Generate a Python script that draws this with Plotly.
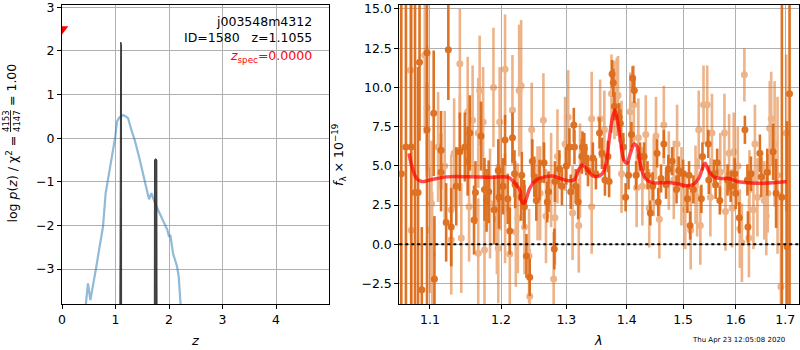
import math
import plotly.graph_objects as go

# ---------------- left panel data: p(z) ----------------
z_pz = [0.442, 0.486, 0.530, 0.579, 0.642, 0.704, 0.766, 0.816, 0.891, 0.953, 0.997, 1.028,
        1.070, 1.109, 1.146, 1.190, 1.234, 1.296, 1.358, 1.439, 1.514, 1.576, 1.626, 1.670,
        1.713, 1.794, 1.888, 1.969, 2.000, 2.025, 2.075, 2.150, 2.181, 2.218]
logp_pz = [-3.85, -3.33, -3.71, -3.40, -2.94, -2.48, -2.03, -1.26, -0.73, -0.27, 0.04, 0.38,
           0.47, 0.50, 0.53, 0.50, 0.46, 0.19, -0.04, -0.42, -0.80, -1.11, -1.40, -1.26,
           -1.41, -1.64, -1.87, -2.10, -2.26, -2.22, -2.64, -2.94, -3.17, -3.85]

z_peak1 = [1.080, 1.083, 1.097, 1.111, 1.114]
logp_peak1 = [-4.2, 2.15, 2.20, 2.15, -4.2]
z_peak2 = [1.725, 1.729, 1.751, 1.773, 1.777]
logp_peak2 = [-4.2, -0.50, -0.47, -0.50, -4.2]

z_spec = [0.0]
z_spec_y = [2.5]

# ---------------- right panel data: spectrum ----------------
lam_dark = [1.062, 1.068, 1.075, 1.080, 1.084, 1.086, 1.089, 1.096, 1.096, 1.105, 1.106, 1.115,
            1.115, 1.122, 1.125, 1.129, 1.136, 1.141, 1.148, 1.152, 1.155, 1.161, 1.163, 1.171,
            1.176, 1.179, 1.182, 1.190, 1.196, 1.197, 1.203, 1.206, 1.210, 1.213, 1.217, 1.220,
            1.221, 1.230, 1.231, 1.234, 1.235, 1.238, 1.243, 1.247, 1.250, 1.253, 1.258, 1.265,
            1.270, 1.272, 1.281, 1.282, 1.289, 1.293, 1.300, 1.305, 1.307, 1.312, 1.313, 1.315,
            1.319, 1.325, 1.326, 1.329, 1.332, 1.335, 1.343, 1.348, 1.354, 1.358, 1.363, 1.368,
            1.370, 1.375, 1.377, 1.379, 1.387, 1.389, 1.394, 1.398, 1.403, 1.408, 1.410, 1.413,
            1.416, 1.423, 1.430, 1.436, 1.441, 1.445, 1.453, 1.455, 1.460, 1.465, 1.469, 1.473,
            1.480, 1.488, 1.492, 1.500, 1.508, 1.511, 1.513, 1.519, 1.534, 1.536, 1.547, 1.548,
            1.558, 1.561, 1.564, 1.569, 1.584, 1.590, 1.598, 1.600, 1.607, 1.618, 1.623, 1.624,
            1.630, 1.648, 1.651, 1.663, 1.675, 1.681, 1.693, 1.704, 1.709]
flux_dark = [4.5, 6.2, 6.2, 3.3, 3.3, 11.6, -2.9, 12.2, 7.3, 8.35, -2.2, 6.0,
             4.6, 1.4, 12.4, 1.1, 3.7, 5.9, 6.2, 5.3, 7.1, 1.55, 3.3, 6.9,
             3.5, 2.8, 3.35, 2.2, 4.7, 3.0, 3.7, 6.65, 2.9, 0.85, 6.8, 4.5,
             3.8, 3.0, 4.4, 2.7, 2.4, -0.74, -2.1, 5.3, 4.3, 2.8, 4.1, 5.2,
             2.7, 3.35, -0.3, 4.0, 4.8, 3.7, 5.0, 6.2, 3.35, 7.6, 6.2, 3.7,
             2.7, 5.6, 6.2, 6.1, 5.4, 4.7, 5.5, 4.5, 7.1, 5.8, 4.1, 5.6,
             4.0, 10.85, 10.3, 8.8, 8.1, 7.7, 6.2, 3.0, 4.4, 7.0, 10.6, 9.8,
             4.4, 5.6, 5.6, 4.4, 2.0, 3.7, 5.8, 2.7, 4.2, 6.4, 3.8, 4.8,
             5.3, 3.5, 4.7, 4.5, 2.9, 4.4, 1.2, 3.5, 2.9, 5.6, 6.4, 4.1,
             4.5, 3.8, 5.2, 2.8, 4.1, 3.7, 4.5, 3.25, 1.7, 7.3, 4.1, 1.1,
             4.5, 5.8, 4.3, 4.6, 5.9, 3.25, 3.0, -0.15, 9.6]
err_dark = [20, 20, 14, 12, 8, 5, 4, 18, 3, 4, 4, 2.5,
            2.5, 2.5, 3.2, 2.5, 2.5, 2.5, 2.2, 2.2, 2.4, 2.2, 2.0, 2.2,
            2.0, 2.0, 2.0, 2.2, 2.0, 2.0, 1.8, 1.6, 1.6, 1.5, 1.6, 1.5,
            1.5, 1.5, 1.5, 1.4, 1.4, 1.4, 1.2, 1.4, 1.3, 1.3, 1.3, 1.3,
            1.3, 1.3, 1.3, 1.3, 1.2, 1.2, 1.2, 1.2, 1.1, 1.1, 1.1, 1.1,
            1.1, 1.1, 1.0, 1.0, 1.0, 1.0, 1.0, 1.0, 1.0, 1.0, 1.0, 1.0,
            1.0, 0.9, 0.9, 0.9, 0.9, 0.9, 0.9, 0.9, 0.9, 0.8, 0.75, 0.8,
            0.9, 0.9, 0.9, 0.9, 0.8, 0.9, 0.9, 0.9, 0.9, 0.9, 0.9, 0.9,
            0.9, 0.9, 0.9, 0.9, 0.9, 0.9, 0.9, 0.9, 0.9, 0.9, 0.9, 0.9,
            0.9, 0.9, 0.9, 0.9, 1.0, 1.0, 1.0, 1.0, 1.0, 0.9, 1.0, 1.0,
            1.1, 1.2, 1.3, 1.5, 1.8, 2.2, 20, 8, 20]

lam_light = [1.074, 1.075, 1.093, 1.096, 1.100, 1.102, 1.103, 1.111, 1.120, 1.129, 1.129, 1.133,
             1.141, 1.141, 1.143, 1.152, 1.154, 1.159, 1.167, 1.167, 1.169, 1.174, 1.176, 1.184,
             1.189, 1.194, 1.196, 1.198, 1.199, 1.206, 1.206, 1.213, 1.217, 1.222, 1.225, 1.227,
             1.230, 1.235, 1.242, 1.243, 1.246, 1.255, 1.259, 1.264, 1.268, 1.276, 1.280, 1.282,
             1.286, 1.298, 1.303, 1.310, 1.320, 1.322, 1.341, 1.341, 1.355, 1.362, 1.374, 1.379,
             1.383, 1.385, 1.391, 1.391, 1.406, 1.412, 1.417, 1.420, 1.427, 1.433, 1.439, 1.447,
             1.451, 1.457, 1.465, 1.474, 1.483, 1.489, 1.497, 1.504, 1.514, 1.523, 1.526, 1.529,
             1.532, 1.538, 1.545, 1.551, 1.554, 1.570, 1.578, 1.580, 1.587, 1.593, 1.596, 1.604,
             1.608, 1.612, 1.617, 1.626, 1.627, 1.635, 1.638, 1.643, 1.657, 1.661, 1.664, 1.668,
             1.671, 1.678, 1.684, 1.691, 1.702]
flux_light = [11.1, 0.9, 12.05, 8.7, 0.9, 2.6, -0.64, 6.2, 5.0, 2.2, 0.3, 5.8,
              11.5, 6.0, 0.4, 8.45, 2.4, 7.9, 7.1, -0.57, 9.8, 7.8, -0.36, 2.6,
              10.0, 1.6, -0.25, 7.8, 4.4, 11.15, 2.3, -0.62, 8.56, 0.8, 1.66, 9.8,
              10.1, 1.1, -0.74, -3.3, 7.3, 3.25, 3.25, 7.9, 1.8, 4.1, -2.2, 1.7,
              5.6, 6.4, 8.1, 2.0, 1.2, 4.7, 8.0, 2.4, 8.0, 7.3, 9.6, 9.2,
              9.4, 9.5, 6.65, 4.5, 8.45, 8.9, 3.6, 6.8, 3.7, 7.0, 2.3, 4.3,
              6.9, 1.6, 7.6, 4.7, 4.1, 6.4, 3.7, 2.2, 0.9, 3.8, 3.0, 7.3,
              1.2, 8.9, 8.9, 3.0, 7.1, 4.6, 7.1, 2.1, 5.8, 2.3, 5.9, 5.0,
              1.0, 0.1, 10.8, 0.4, 3.5, 2.2, 6.4, 3.0, 2.8, 1.8, 3.25, 7.4,
              8.0, 6.4, 4.4, -2.7, 7.1]
err_light = [5, 5, 5, 4, 4, 4, 4, 3.5, 3.5, 3.5, 3.5, 3.5,
             3.5, 3.5, 3.5, 3.5, 3.5, 3.5, 3.5, 3.5, 3.5, 3.5, 3.5, 3.5,
             3.8, 3.5, 3.5, 3.5, 3.5, 3.5, 3.5, 3.5, 3.5, 3.5, 3.5, 4.2,
             4.2, 3.0, 3.0, 3.0, 3.0, 3.0, 3.0, 3.0, 3.0, 3.0, 3.0, 3.0,
             3.0, 3.0, 3.0, 3.0, 3.0, 3.0, 3.0, 3.0, 2.5, 2.5, 2.5, 2.5,
             2.5, 2.5, 2.5, 2.5, 2.5, 2.5, 2.5, 2.5, 2.5, 2.5, 2.5, 2.5,
             2.5, 2.5, 2.5, 2.5, 2.5, 2.5, 2.5, 2.5, 2.5, 2.5, 2.5, 2.5,
             2.5, 2.5, 2.5, 2.5, 2.5, 2.5, 2.5, 2.5, 2.5, 2.5, 2.5, 2.5,
             2.5, 2.5, 1.7, 2.5, 2.5, 2.5, 2.5, 2.5, 2.5, 2.5, 2.5, 3.0,
             3.0, 4.0, 5.0, 6.0, 5.0]

lam_model = [1.072, 1.076, 1.082, 1.089, 1.100, 1.123, 1.155, 1.184, 1.211, 1.218, 1.228, 1.230,
             1.234, 1.238, 1.243, 1.253, 1.266, 1.279, 1.290, 1.304, 1.312, 1.320, 1.325, 1.332,
             1.341, 1.349, 1.359, 1.365, 1.370, 1.376, 1.380, 1.384, 1.389, 1.395, 1.400, 1.407,
             1.413, 1.418, 1.423, 1.432, 1.444, 1.465, 1.477, 1.491, 1.507, 1.519, 1.529, 1.537,
             1.541, 1.547, 1.557, 1.570, 1.587, 1.603, 1.623, 1.656, 1.703]
flux_model = [5.8, 4.95, 4.2, 4.0, 4.1, 4.3, 4.3, 4.27, 4.27, 4.0, 3.46, 2.82,
              2.6, 2.93, 3.57, 4.1, 4.3, 4.35, 4.2, 4.05, 4.1, 4.73, 5.05, 4.84,
              4.42, 4.31, 4.52, 5.16, 6.65, 8.13, 8.56, 7.92, 6.65, 5.37, 5.16, 5.9,
              6.39, 6.22, 5.16, 4.2, 3.93, 3.93, 3.93, 3.84, 3.74, 3.82, 4.2, 4.95,
              5.16, 4.73, 4.31, 4.2, 4.2, 4.0, 3.93, 3.89, 4.0]

left_xticks = [0, 1, 2, 3, 4]
left_yticks = [-3, -2, -1, 0, 1, 2, 3]
right_xticks = [1.1, 1.2, 1.3, 1.4, 1.5, 1.6, 1.7]
right_yticks = [-2.5, 0.0, 2.5, 5.0, 7.5, 10.0, 12.5, 15.0]


def fmt(v, nd):
    s = f"{abs(v):.{nd}f}"
    return ("\u2212" + s) if v < 0 else s


W, H = 800, 350
FONT = "DejaVu Sans"
ORANGE = "rgb(220,104,20)"

fig = go.Figure()

# left panel
fig.add_trace(go.Scatter(x=z_pz, y=logp_pz, mode="lines",
                         line=dict(color="rgba(31,119,180,0.5)", width=2.2),
                         xaxis="x", yaxis="y", showlegend=False))
for zz, yy in ((z_peak1, logp_peak1), (z_peak2, logp_peak2)):
    fig.add_trace(go.Scatter(x=zz, y=yy, mode="lines", fill="toself",
                             fillcolor="rgba(40,40,40,0.85)",
                             line=dict(color="rgba(40,40,40,0.85)", width=1),
                             xaxis="x", yaxis="y", showlegend=False))
fig.add_trace(go.Scatter(x=z_spec, y=z_spec_y, mode="markers",
                         marker=dict(symbol="triangle-down", color="red", size=11),
                         cliponaxis=True, xaxis="x", yaxis="y", showlegend=False))

# right panel
fig.add_trace(go.Scatter(x=lam_light, y=flux_light, mode="markers",
                         marker=dict(color=ORANGE, size=7),
                         error_y=dict(type="data", array=err_light, color=ORANGE,
                                      thickness=2.6, width=0),
                         opacity=0.5, xaxis="x2", yaxis="y2", showlegend=False))
fig.add_trace(go.Scatter(x=lam_dark, y=flux_dark, mode="markers",
                         marker=dict(color=ORANGE, size=7),
                         error_y=dict(type="data", array=err_dark, color=ORANGE,
                                      thickness=2.6, width=0),
                         opacity=0.92, xaxis="x2", yaxis="y2", showlegend=False))
fig.add_trace(go.Scatter(x=lam_model, y=flux_model, mode="lines",
                         line=dict(color="rgba(255,0,0,0.7)", width=3.5, shape="spline"),
                         xaxis="x2", yaxis="y2", showlegend=False))

axis_common = dict(showline=True, mirror=True, linecolor="black", linewidth=1,
                   ticks="outside", ticklen=4, tickcolor="black", tickwidth=1,
                   showgrid=True, gridcolor="#b0b0b0", gridwidth=1, zeroline=False,
                   automargin=False, ticklabeloverflow="allow",
                   tickfont=dict(family=FONT, size=12.5, color="black"))

ydom = [1 - 304 / H, 1 - 5 / H]
fig.update_layout(
    template="none",
    width=W, height=H, margin=dict(l=0, r=0, t=0, b=0, pad=0, autoexpand=False),
    paper_bgcolor="white", plot_bgcolor="white",
    font=dict(family=FONT, size=12.5, color="black"),
    xaxis=dict(domain=[62 / W, 329 / W], range=[0, 4.99], anchor="y",
               tickvals=left_xticks, ticktext=[str(v) for v in left_xticks], **axis_common),
    yaxis=dict(domain=ydom, range=[-3.8, 3.05], anchor="x",
               tickvals=left_yticks, ticktext=[fmt(v, 0) for v in left_yticks], **axis_common),
    xaxis2=dict(domain=[399.3 / W, 799 / W], type="log",
                range=[math.log10(1.0594), math.log10(1.7289)], anchor="y2",
                tickvals=right_xticks, ticktext=[fmt(v, 1) for v in right_xticks], **axis_common),
    yaxis2=dict(domain=ydom, range=[-3.8, 15.25], anchor="x2",
                tickvals=right_yticks, ticktext=[fmt(v, 1) for v in right_yticks], **axis_common),
)

fig.add_shape(type="line", xref="x2 domain", yref="y2", x0=0, x1=1, y0=0, y1=0,
              line=dict(color="black", width=2, dash="dot"))


def ann(text, x, y, size=12.5, color="black", xanchor="center", yanchor="middle", angle=0):
    fig.add_annotation(text=text, x=x / W, y=1 - y / H, xref="paper", yref="paper",
                       showarrow=False, xanchor=xanchor, yanchor=yanchor, textangle=angle,
                       font=dict(family=FONT, size=size, color=color))


ann("j003548m4312", 314, 22, xanchor="right")
ann("ID=1580   z=1.1055", 314, 37, xanchor="right")
ann("<i>z</i><sub>spec</sub>=0.0000", 314, 56, color="red", xanchor="right")

ann("<i>z</i>", 195, 340, size=13)
ann("<i>λ</i>", 598, 340, size=13)

ann("log <i>p</i>(<i>z</i>) / χ<sup>2</sup> =", 12, 134, yanchor="top", angle=-90)
ann("<u>4153</u><br>4147", 12, 121, size=8.5, angle=-90)
ann("= 1.00", 12, 108, yanchor="bottom", angle=-90)

ann("<i>f</i><sub>λ</sub> × 10<sup>−19</sup>", 339, 155, angle=-90)

ann("Thu Apr 23 12:05:08 2020", 787, 340, size=7, xanchor="right")

fig.write_html("out.html", config={"displayModeBar": False},
               post_script="document.body.style.margin='0px';"
                           "document.body.style.padding='0px';"
                           "document.body.style.overflow='hidden';")
